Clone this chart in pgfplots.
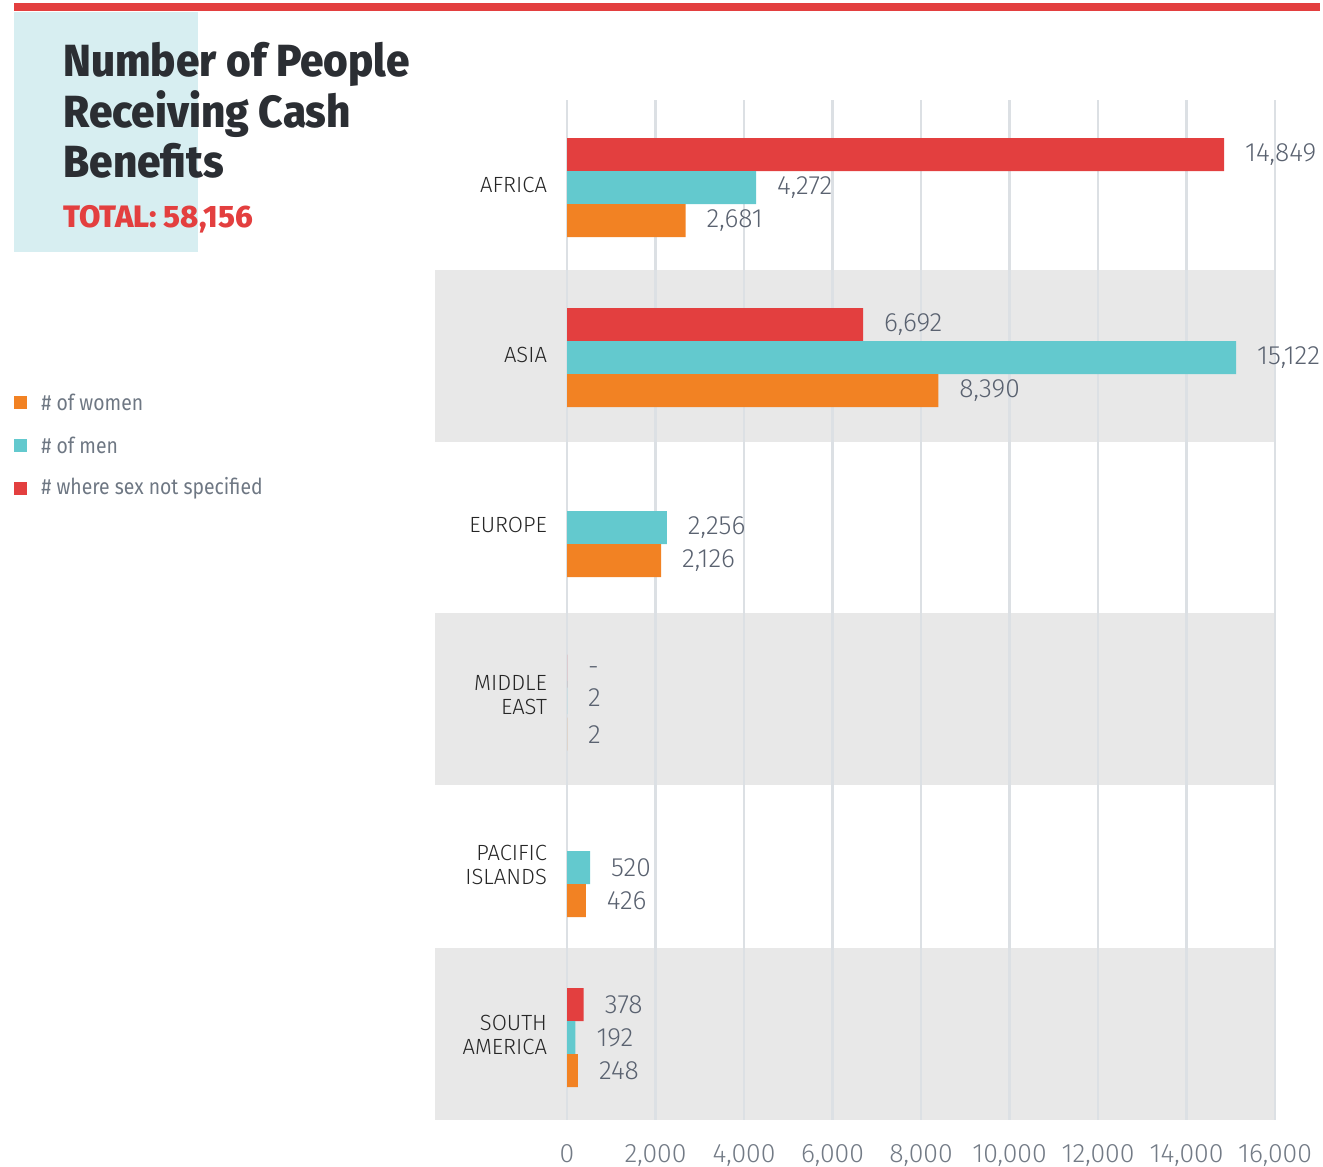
\documentclass[border=0pt]{standalone}
\usepackage{fontspec}
\setmainfont{Fira Sans}[UprightFont={* Light}, BoldFont={* ExtraBold}]
\newfontfamily\regfont{Fira Sans}
\usepackage{pgfplots}
\pgfplotsset{compat=1.18}
\definecolor{redc}{HTML}{E33F3F}
\definecolor{cyanc}{HTML}{63C9CE}
\definecolor{orangec}{HTML}{F28223}
\definecolor{bandc}{HTML}{E8E8E8}
\definecolor{gridc}{HTML}{DCE0E4}
\definecolor{titlebg}{HTML}{D7EEF1}
\definecolor{titletext}{HTML}{2B2E33}
\definecolor{legendtext}{HTML}{6E7783}
\definecolor{valtext}{HTML}{5A6270}
\definecolor{cattext}{HTML}{262626}
\definecolor{ticktext}{HTML}{737B86}

\pgfplotstableread{
x y l
14849 -0.179 {14,849}
6692 0.821 {6,692}
0 2.86 {-}
378 4.821 {378}
}\redtab
\pgfplotstableread{
x y l
4272 0.015 {4,272}
15122 1.015 {15,122}
2256 2.015 {2,256}
2 3.015 {2}
520 4.015 {520}
192 5.015 {192}
}\cyantab
\pgfplotstableread{
x y l
2681 0.209 {2,681}
8390 1.209 {8,390}
2126 2.209 {2,126}
2 3.23 {2}
426 4.209 {426}
248 5.209 {248}
}\orangetab

\begin{document}
\begin{tikzpicture}
\path[use as bounding box] (0,0) rectangle (661.5pt,583.5pt);
\begin{scope}[x=0.5pt,y=-0.5pt,shift={(0,583.5pt)}]
  % top red rule
  \fill[redc] (14,3) rectangle (1320,11);
  % title background
  \fill[titlebg] (14,12) rectangle (198,252);
  % gray bands
  \fill[bandc] (435,270) rectangle (1275,442);
  \fill[bandc] (435,613) rectangle (1275,785);
  \fill[bandc] (435,948) rectangle (1275,1120);
  % title
  \node[anchor=base west, inner sep=0, font=\fontsize{22.5}{25}\bfseries, text=titletext] at (63,77) {\scalebox{0.94}[1]{Number of People}};
  \node[anchor=base west, inner sep=0, font=\fontsize{22.5}{25}\bfseries, text=titletext] at (63,128) {\scalebox{0.94}[1]{Receiving Cash}};
  \node[anchor=base west, inner sep=0, font=\fontsize{22.5}{25}\bfseries, text=titletext] at (63,178) {\scalebox{0.94}[1]{Benefits}};
  \node[anchor=base west, inner sep=0, font=\fontsize{15.5}{17}\bfseries, text=redc] at (63,228) {TOTAL: 58,156};
  % legend
  \fill[orangec] (14,396) rectangle (27,409);
  \fill[cyanc] (14,439) rectangle (27,452);
  \fill[redc] (14,482) rectangle (27,495);
  \node[anchor=west, inner sep=0, font=\fontsize{11}{13}\regfont, text=legendtext] at (41,402) {\scalebox{0.88}[1]{\# of women}};
  \node[anchor=west, inner sep=0, font=\fontsize{11}{13}\regfont, text=legendtext] at (41,445) {\scalebox{0.88}[1]{\# of men}};
  \node[anchor=west, inner sep=0, font=\fontsize{11}{13}\regfont, text=legendtext] at (41,488) {\scalebox{0.88}[1]{\# where sex not specified}};
\end{scope}
\begin{axis}[
  at={(283.5pt,23.5pt)}, anchor=south west,
  width=354pt, height=510pt, scale only axis,
  xmin=0, xmax=16000, ymin=-0.5, ymax=5.5, y dir=reverse,
  axis line style={draw=none},
  major tick length=0pt,
  xtick={0,2000,...,16000},
  xmajorgrids, grid style={draw=gridc, line width=1.2pt},
  scaled x ticks=false,
  xticklabel style={font=\fontsize{13.3}{15}\selectfont, text=ticktext, yshift=-8.5pt},
  /pgf/number format/.cd, 1000 sep={,}, assume math mode=true,
  /pgfplots/.cd,
  ytick={0,...,5},
  yticklabels={AFRICA, ASIA, EUROPE, {MIDDLE\\EAST}, {PACIFIC\\ISLANDS}, {SOUTH\\AMERICA}},
  yticklabel style={align=right, font=\fontsize{11}{12}\selectfont, text=cattext, xshift=-6.5pt},
  clip=false,
  nodes near coords,
  point meta=explicit symbolic,
  every node near coord/.append style={anchor=west, xshift=7pt, font=\fontsize{13.2}{15}\selectfont, text=valtext},
]
\addplot[xbar, bar width=0.194, bar shift=0pt, fill=redc, draw=none] table[x=x,y=y,meta=l] {\redtab};
\addplot[xbar, bar width=0.194, bar shift=0pt, fill=cyanc, draw=none] table[x=x,y=y,meta=l] {\cyantab};
\addplot[xbar, bar width=0.194, bar shift=0pt, fill=orangec, draw=none] table[x=x,y=y,meta=l] {\orangetab};
\end{axis}
\end{tikzpicture}
\end{document}
